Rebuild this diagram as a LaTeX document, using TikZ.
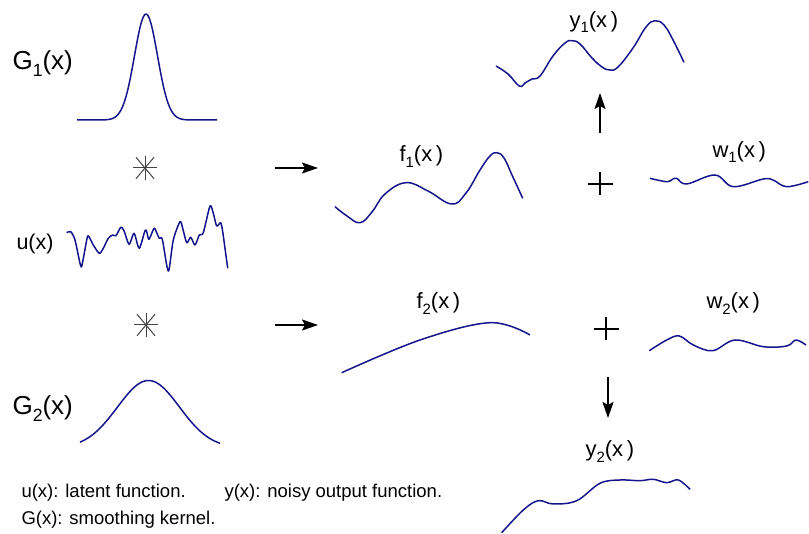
\documentclass[tikz,border=0pt]{standalone}
\usepackage{fontspec}
\setmainfont{Liberation Sans}
\usetikzlibrary{arrows.meta}
\definecolor{Navy}{HTML}{14148C}
\definecolor{StarGray}{HTML}{444444}
\newcommand{\idx}[1]{\raisebox{-0.45ex}{\scalebox{0.68}{#1}}}

\begin{document}
\begin{tikzpicture}[x=1pt,y=-1pt,>={Stealth[length=16pt,width=11pt,inset=3pt]}]
    \tikzset{
      curve/.style={Navy,line width=1.5pt,line join=round},
      biglab/.style={font=\fontsize{26}{30}\selectfont,anchor=base west},
      lab/.style={font=\fontsize{22}{26}\selectfont,anchor=base west},
      note/.style={font=\fontsize{18.5}{22}\selectfont,anchor=base west},
      arr/.style={->,line width=2pt},
      plusline/.style={black,line width=2pt},
      starline/.style={StarGray,line width=1pt}
    }
    \useasboundingbox (0,0) rectangle (809,534);
    % left column: kernels and latent function
    \node[biglab] (g1lab) at (9,70) {G\idx{1}(x)};
    \node[biglab] (g2lab) at (9,415) {G\idx{2}(x)};
    \node[font=\fontsize{21.5}{25}\selectfont,anchor=base west] (ulab) at (13,250) {u(x)};
    \draw[curve] plot[domain=77:217,samples=90] (\x,{120-106*exp(-((\x-146)^2)/(2*11.5^2))});
    \draw[curve] plot[domain=80:220,samples=90] (\x,{448-67.5*exp(-((\x-148.5)^2)/(2*31^2))});
    \draw[curve] plot[smooth,tension=0.45] coordinates {(66.7,232.7) (70.7,231.7) (75,240) (80.7,266)
      (82.7,261.7) (87.3,237.3) (89.3,237.3) (93.3,245) (99.3,253.3) (103.3,248.3) (108.3,238.3)
      (112.7,235) (116,235.7) (120.7,227.3) (124,230.7) (129,244.3) (133.3,234) (135,235)
      (139.3,248.3) (145,230.7) (146.7,231.7) (149,239.3) (154,228.3) (156.7,232.7) (159.3,238.3)
      (162.3,239.3) (166.7,265) (169,270) (173.3,240) (180,221.7) (182.7,228.3) (186.7,242.7)
      (190.7,237.3) (195,245) (199.3,235) (203.3,232.7) (210,206) (213.3,213.3) (216.7,226)
      (220.7,222.7) (222.7,231.7) (227.7,268.3)};
    % convolution signs
    \coordinate (conv1) at (145,168);
    \coordinate (conv2) at (146,325);
    \foreach \c in {conv1,conv2} {
      \draw[starline] (\c) ++(0:12) -- ++(180:24);
      \draw[starline] (\c) ++(90:12) -- ++(270:24);
      \draw[starline] (\c) ++(50:14) -- ++(230:28);
      \draw[starline] (\c) ++(130:14) -- ++(310:28);
    }
    % arrows
    \coordinate (a1s) at (275,168);
    \coordinate (a1e) at (318,168);
    \coordinate (a2s) at (275,325);
    \coordinate (a2e) at (318,325);
    \coordinate (ups) at (600,133);
    \coordinate (upe) at (600,93);
    \coordinate (dns) at (608,377);
    \coordinate (dne) at (608,418);
    \foreach \a/\b in {a1s/a1e,a2s/a2e,ups/upe,dns/dne}
      \draw[arr] (\a) -- (\b);
    % plus signs
    \coordinate (plus1) at (600,184);
    \coordinate (plus2) at (606,329);
    \foreach \c in {plus1,plus2} {
      \draw[plusline] (\c) ++(-12.5,0) -- ++(25,0);
      \draw[plusline] (\c) ++(0,-11.5) -- ++(0,23);
    }
    % smoothed functions, noise and outputs
    \node[lab] (f1lab) at (396,162) {f\idx{1}(x\,)};
    \node[lab] (f2lab) at (413,308.8) {f\idx{2}(x\,)};
    \node[lab] (w1lab) at (709,157.2) {w\idx{1}(x\,)};
    \node[lab] (w2lab) at (703,308.8) {w\idx{2}(x\,)};
    \node[lab] (y1lab) at (566,27.5) {y\idx{1}(x\,)};
    \node[lab] (y2lab) at (582,457) {y\idx{2}(x\,)};
    \draw[curve] plot[smooth,tension=0.7] coordinates {(335,206.7) (347,216) (360,222.7) (372,212)
      (385,194) (406,182.7) (428,191) (451.7,204) (466,193) (480,170) (490,156) (497,152.7)
      (504,158) (512,175) (522.7,198.3)};
    \draw[curve] plot[smooth,tension=0.6] coordinates {(341.7,372.7) (420,340) (490,322.7) (530,335)};
    \draw[curve] plot[smooth,tension=0.7] coordinates {(496,66) (508,74) (519.3,86) (525,83) (532,79)
      (540,76) (553,56) (565,43) (572,40.7) (580,44) (592,58) (602,67) (610,70) (618,67) (633,48)
      (646,27) (655,20.7) (664,25) (672,38) (684,62.3)};
    \draw[curve] plot[smooth,tension=0.6] coordinates {(650,178.3) (666.7,181.7) (673,179) (677,178.5)
      (686.7,184) (715,175) (733.3,186.7) (763.3,179) (773,180) (786.7,186.7) (808.3,181.7)};
    \draw[curve] plot[smooth,tension=0.6] coordinates {(649.3,350.7) (666.7,340) (679.3,336) (693.3,345)
      (712.7,350.7) (735,340) (763.3,346.7) (786.7,346) (796,340) (806,345)};
    \draw[curve] plot[smooth,tension=0.6] coordinates {(501.7,532.7) (523.3,510) (538.3,500.7) (553.3,504)
      (576.7,500.7) (600,483.3) (620,480) (640,480.7) (653.3,479.3) (666.7,482.7) (678.3,480) (690,489.3)};
    % legend
    \node[note] (ucap) at (18,497) {u(x): latent function.};
    \node[note] (ycap) at (221,497) {y(x): noisy output function.};
    \node[note] (gcap) at (18,525) {G(x): smoothing kernel.};
\end{tikzpicture}
\end{document}
